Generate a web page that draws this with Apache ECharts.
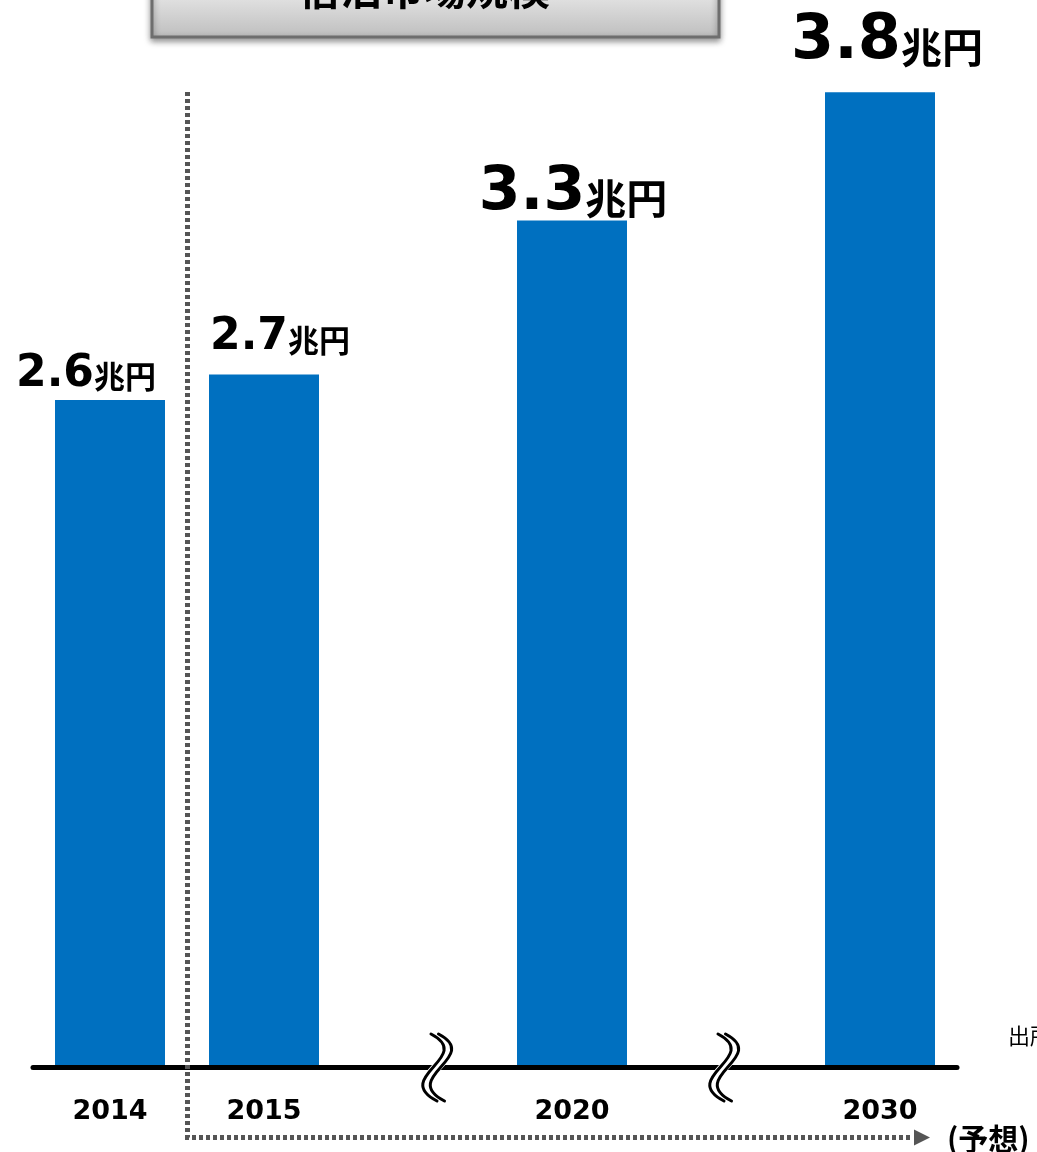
<!DOCTYPE html>
<html>
<head>
<meta charset="utf-8">
<script src="https://cdn.jsdelivr.net/npm/echarts@6/dist/echarts.min.js"></script>
<style>
  html, body { margin: 0; padding: 0; background: #ffffff; }
  #chart { width: 1037px; height: 1152px; }
</style>
</head>
<body>
<div id="chart"></div>
<script>
// Market size by year (trillion yen); empty slots hold the axis breaks
const years = ['2014', '2015', '', '2020', '', '2030'];
const marketSize = [2.6, 2.7, null, 3.3, null, 3.8];
const unitLabel = '兆円';
const titleText = '宿泊市場規模';
const forecastText = '(予想)';
const sourceText = '出所';
const breakSlots = [2, 4];

// Per-bar value label look: number size, unit size, x shift, y shift
const labelLook = {
  0: { num: 44, unit: 31, dx: -24, dy: 2 },
  1: { num: 44, unit: 31, dx: 16, dy: -9 },
  3: { num: 60, unit: 41, dx: 1, dy: 9 },
  5: { num: 62, unit: 41, dx: 7, dy: -13 }
};
// Horizontal nudge of each break mark inside its empty slot
const breakShift = { 2: 17, 4: -4 };

const BAR_BLUE = '#0070C0';
const DOT_GREY = '#555555';

const chart = echarts.init(document.getElementById('chart'), null, { renderer: 'canvas' });

const barData = marketSize.map((v, i) => {
  if (v === null) return '-';
  const look = labelLook[i];
  return {
    value: v,
    label: {
      offset: [look.dx, look.dy],
      rich: {
        v: { fontFamily: 'DejaVu Sans', fontWeight: 'bold', fontSize: look.num, color: '#000', verticalAlign: 'bottom' },
        u: { fontFamily: 'Noto Sans CJK JP', fontWeight: 'bold', fontSize: look.unit, color: '#000', verticalAlign: 'bottom', padding: [0, 0, Math.round(look.num * 0.08), 0] }
      }
    }
  };
});

// Double wavy break mark that interrupts the baseline
function renderBreak(params, api) {
  const slot = api.value(0);
  const p = api.coord([slot, 0]);
  const x = p[0] + (breakShift[slot] || 0), y = p[1];
  const curve = (dx, stroke, width) => ({
    type: 'bezierCurve',
    shape: {
      x1: x + dx - 4, y1: y - 33,
      x2: x + dx + 2, y2: y + 34,
      cpx1: x + dx + 40, cpy1: y - 10,
      cpx2: x + dx - 44, cpy2: y + 10
    },
    style: { stroke: stroke, lineWidth: width, fill: null, lineCap: 'round' }
  });
  return {
    type: 'group',
    children: [
      curve(3.5, '#ffffff', 10),
      curve(0, '#000000', 3),
      curve(7.5, '#000000', 3)
    ]
  };
}

const option = {
  backgroundColor: '#ffffff',
  animation: false,
  grid: { left: 33, right: 80, top: 41, bottom: 85, containLabel: false },
  xAxis: {
    type: 'category',
    data: years,
    z: 3,
    axisLine: { show: true, lineStyle: { color: '#000000', width: 5 } },
    axisTick: { show: false },
    axisLabel: {
      margin: 31,
      color: '#000000',
      fontFamily: 'DejaVu Sans',
      fontWeight: 'bold',
      fontSize: 27,
      interval: 0
    }
  },
  yAxis: {
    type: 'value',
    min: 0,
    max: 4,
    show: false
  },
  series: [
    {
      type: 'bar',
      data: barData,
      barWidth: 110,
      itemStyle: { color: BAR_BLUE },
      label: {
        show: true,
        position: 'top',
        distance: 6,
        formatter: p => `{v|${p.value}}{u|${unitLabel}}`
      }
    },
    {
      type: 'custom',
      z: 5,
      data: breakSlots.map(i => [i, 0]),
      renderItem: renderBreak,
      silent: true
    }
  ]
};

chart.setOption(option);

// Forecast bracket: dotted line from the 2014/2015 boundary down and along to an arrow
const c0 = chart.convertToPixel({ gridIndex: 0 }, [0, 0]);
const c1 = chart.convertToPixel({ gridIndex: 0 }, [1, 0]);
const cLast = chart.convertToPixel({ gridIndex: 0 }, [years.length - 1, Math.max(...marketSize.filter(v => v !== null))]);
const xb = Math.round((c0[0] + c1[0]) / 2) + 0.5;
const axisY = Math.round(c0[1]);
const topY = Math.round(cLast[1]);
const lowY = axisY + 70.5;
const xEnd = Math.round(cLast[0] + 32);

chart.setOption({
  graphic: [
    {
      type: 'polyline',
      z: 20,
      shape: { points: [[xb, topY], [xb, lowY], [xEnd, lowY]] },
      style: { stroke: DOT_GREY, lineWidth: 5, lineDash: [4, 3], fill: null }
    },
    {
      type: 'polygon',
      z: 20,
      shape: { points: [[xEnd + 2, lowY - 8], [xEnd + 18, lowY], [xEnd + 2, lowY + 8]] },
      style: { fill: DOT_GREY }
    },
    {
      type: 'text',
      z: 20,
      style: {
        text: forecastText, x: 947, y: lowY + 1,
        fontFamily: 'Noto Sans CJK JP', fontWeight: 'bold', fontSize: 30,
        fill: '#000000', align: 'left', verticalAlign: 'middle'
      }
    },
    {
      type: 'rect',
      z: 20,
      shape: { x: 152, y: -20, width: 567, height: 57 },
      style: {
        fill: new echarts.graphic.LinearGradient(0, 0, 0, 1, [
          { offset: 0, color: '#f2f2f2' },
          { offset: 1, color: '#bdbdbd' }
        ]),
        stroke: '#6e6e6e',
        lineWidth: 3,
        shadowBlur: 6,
        shadowColor: 'rgba(0,0,0,0.4)',
        shadowOffsetY: 3
      }
    },
    {
      type: 'text',
      z: 21,
      style: {
        text: titleText, x: 424, y: 10,
        fontFamily: 'Noto Sans CJK JP', fontWeight: 'bold', fontSize: 42,
        fill: '#000000', align: 'center', verticalAlign: 'bottom'
      }
    },
    {
      type: 'text',
      z: 20,
      style: {
        text: sourceText, x: 1008, y: 1036,
        fontFamily: 'Noto Sans CJK JP', fontSize: 22,
        fill: '#000000', align: 'left', verticalAlign: 'middle'
      }
    }
  ]
});
</script>
</body>
</html>
